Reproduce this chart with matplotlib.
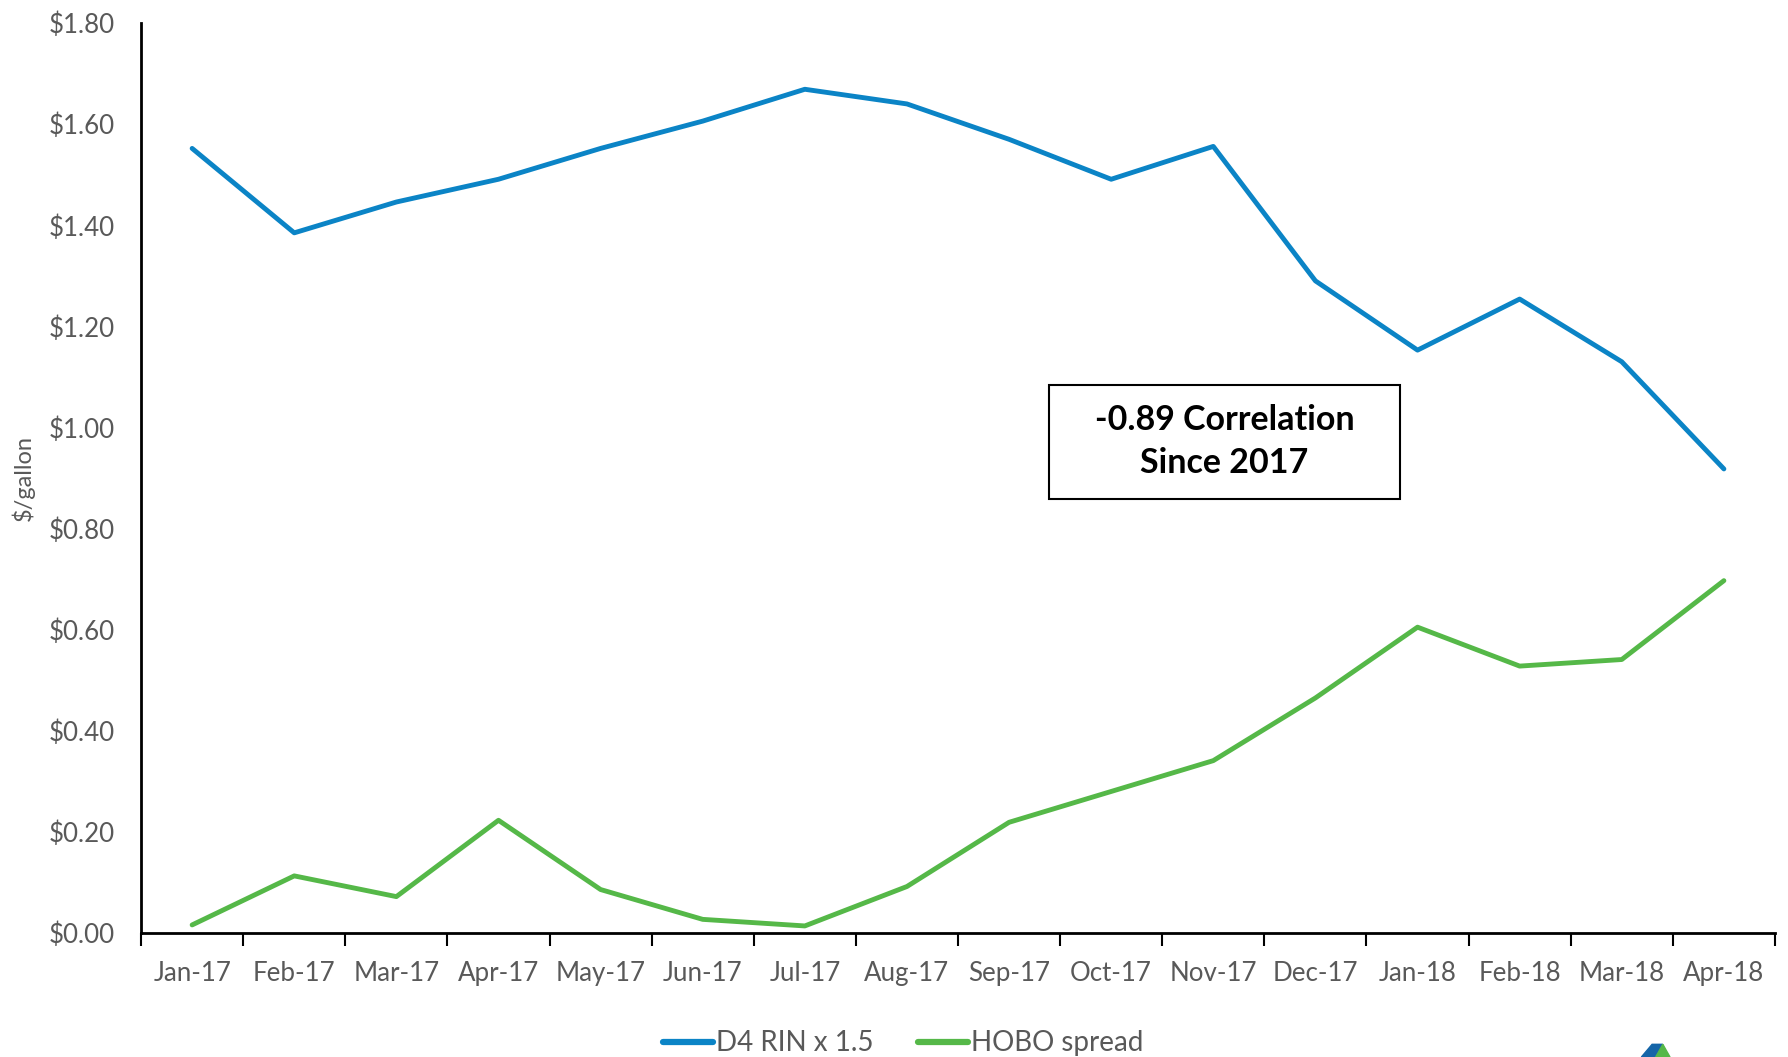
import matplotlib
matplotlib.use("Agg")
from matplotlib import pyplot as plt
from matplotlib.patches import Rectangle, Polygon

plt.rcParams['font.family'] = ['Lato', 'DejaVu Sans']

months = ["Jan-17", "Feb-17", "Mar-17", "Apr-17", "May-17", "Jun-17", "Jul-17", "Aug-17",
          "Sep-17", "Oct-17", "Nov-17", "Dec-17", "Jan-18", "Feb-18", "Mar-18", "Apr-18"]
d4_rin = [1.552, 1.385, 1.446, 1.491, 1.552, 1.606, 1.669, 1.640,
          1.570, 1.491, 1.556, 1.290, 1.153, 1.254, 1.130, 0.918]
hobo = [0.016, 0.113, 0.072, 0.223, 0.086, 0.027, 0.014, 0.092,
        0.219, 0.280, 0.341, 0.465, 0.605, 0.528, 0.541, 0.697]
yticks = [0.0, 0.2, 0.4, 0.6, 0.8, 1.0, 1.2, 1.4, 1.6, 1.8]

blue = '#0B84C6'
green = '#55B848'
grey = '#595959'

fig = plt.figure(figsize=(17.88, 10.57), dpi=100)
ax = fig.add_axes([0.0789, 0.1173, 0.9138, 0.8609])

x = list(range(len(months)))
ax.plot(x, d4_rin, color=blue, lw=3.5, solid_capstyle='round', solid_joinstyle='round', label='D4 RIN x 1.5')
ax.plot(x, hobo, color=green, lw=3.5, solid_capstyle='round', solid_joinstyle='round', label='HOBO spread')

ax.set_xlim(-0.5, len(months) - 0.5)
ax.set_ylim(0, 1.8)
ax.set_yticks(yticks)
ax.set_yticklabels(['${:.2f}'.format(v) for v in yticks], color=grey, fontsize=18.6)
ax.tick_params(axis='y', length=0, pad=19)

ax.set_xticks(x)
ax.set_xticklabels(months, color=grey, fontsize=18.6)
ax.tick_params(axis='x', which='major', length=0, pad=20)
ax.set_xticks([i - 0.5 for i in range(len(months) + 1)], minor=True)
ax.tick_params(axis='x', which='minor', length=9, width=1.5, direction='out', color='black')

for s in ['top', 'right']:
    ax.spines[s].set_visible(False)
for s in ['left', 'bottom']:
    ax.spines[s].set_linewidth(2)
    ax.spines[s].set_color('black')

ax.set_ylabel('$/gallon', color=grey, fontsize=17, labelpad=10)

# correlation box
ax.add_patch(Rectangle((8.39, 0.859), 3.44, 0.226, fill=False, edgecolor='black', lw=1.5))
ax.text(10.11, 0.972, '-0.89 Correlation\nSince 2017', ha='center', va='center',
        fontsize=24.5, fontweight='bold', color='black', linespacing=1.45)

leg = fig.legend(loc='center', bbox_to_anchor=(0.505, 0.013), ncol=2, frameon=False,
                 fontsize=20, handlelength=1.8, handletextpad=0.1, columnspacing=1.6)
for t in leg.get_texts():
    t.set_color(grey)
for h in leg.get_lines():
    h.set_linewidth(4.5)

# partial logo at the bottom edge
fig.patches.append(Polygon([[0.918, 0.0], [0.926, 0.0], [0.930, 0.012], [0.924, 0.012]],
                           closed=True, transform=fig.transFigure, color='#1565A8'))
fig.patches.append(Polygon([[0.926, 0.0], [0.934, 0.0], [0.930, 0.012]],
                           closed=True, transform=fig.transFigure, color=green))

fig.savefig('out.png', dpi=100)
